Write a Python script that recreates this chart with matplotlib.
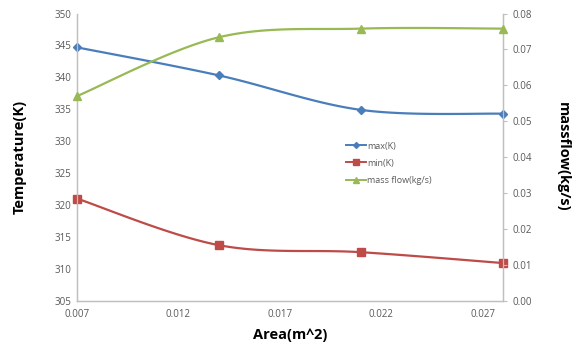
import numpy as np
import matplotlib
matplotlib.use("Agg")
import matplotlib.pyplot as plt
from matplotlib.lines import Line2D

area = [0.007, 0.014, 0.021, 0.028]
t_max = [344.7, 340.3, 334.9, 334.3]
t_min = [321.0, 313.7, 312.6, 310.9]
mass_flow = [0.0570, 0.0734, 0.0758, 0.0758]
x_ticks = [0.007, 0.012, 0.017, 0.022, 0.027]
left_ticks = [305, 310, 315, 320, 325, 330, 335, 340, 345, 350]
right_ticks = [0.00, 0.01, 0.02, 0.03, 0.04, 0.05, 0.06, 0.07, 0.08]

BLUE = "#4A7EBB"
RED = "#BE4B48"
GREEN = "#98B954"
GREY = "#595959"

plt.rcParams['font.family'] = ['Open Sans', 'DejaVu Sans']


def smooth(xs, ys, n=40):
    # Catmull-Rom style Bezier (like Excel smoothed lines) for drawing
    xs = np.asarray(xs, float)
    ys = np.asarray(ys, float)
    px = np.concatenate([[xs[0]], xs, [xs[-1]]])
    py = np.concatenate([[ys[0]], ys, [ys[-1]]])
    outx, outy = [], []
    for i in range(1, len(px) - 2):
        p0 = np.array([px[i - 1], py[i - 1]])
        p1 = np.array([px[i], py[i]])
        p2 = np.array([px[i + 1], py[i + 1]])
        p3 = np.array([px[i + 2], py[i + 2]])
        c1 = p1 + (p2 - p0) / 6.0
        c2 = p2 - (p3 - p1) / 6.0
        t = np.linspace(0, 1, n)[:, None]
        b = ((1 - t) ** 3) * p1 + 3 * ((1 - t) ** 2) * t * c1 + 3 * (1 - t) * t ** 2 * c2 + t ** 3 * p2
        outx.extend(b[:, 0])
        outy.extend(b[:, 1])
    return np.array(outx), np.array(outy)


fig = plt.figure(figsize=(5.86, 3.47), dpi=100)
ax = fig.add_axes([0.1314, 0.1334, 0.7270, 0.8276])
ax2 = ax.twinx()

# left-axis series
for ys, c, m, ms in [(t_max, BLUE, 'D', 4), (t_min, RED, 's', 6)]:
    sx, sy = smooth(area, ys)
    ax.plot(sx, sy, color=c, lw=1.6, zorder=3)
    ax.plot(area, ys, ls='none', marker=m, color=c, ms=ms, zorder=4, clip_on=False)

sx, sy = smooth(area, mass_flow)
ax2.plot(sx, sy, color=GREEN, lw=1.6, zorder=3)
ax2.plot(area, mass_flow, ls='none', marker='^', color=GREEN, ms=6, zorder=4, clip_on=False)

ax.set_xlim(0.007, 0.028)
ax.set_ylim(305, 350)
ax2.set_ylim(0, 0.08)
ax.set_xticks(x_ticks)
ax.set_xticklabels([f"{v:.3f}" for v in x_ticks])
ax.set_yticks(left_ticks)
ax.set_yticklabels([str(v) for v in left_ticks])
ax2.set_yticks(right_ticks)
ax2.set_yticklabels([f"{v:.2f}" for v in right_ticks])

for a in (ax, ax2):
    for s in ('top',):
        a.spines[s].set_visible(False)
    for s in ('left', 'right', 'bottom'):
        a.spines[s].set_color("#BFBFBF")
        a.spines[s].set_linewidth(0.9)
ax.tick_params(axis='x', length=0, labelsize=7, labelcolor=GREY, pad=6)
ax.tick_params(axis='y', length=0, labelsize=7, labelcolor=GREY, pad=4)
ax2.tick_params(axis='y', length=3, color="#BFBFBF", labelsize=7, labelcolor=GREY, pad=4)

ax.set_xlabel("Area(m^2)", fontsize=10.5, fontweight='bold', labelpad=6)
ax.set_ylabel("Temperature(K)", fontsize=10.5, fontweight='bold', labelpad=20)
ax2.set_ylabel("massflow(kg/s)", fontsize=10.5, fontweight='bold', rotation=270, labelpad=27)

handles = [
    Line2D([], [], color=BLUE, marker='D', ms=3, lw=1.4),
    Line2D([], [], color=RED, marker='s', ms=5, lw=1.4),
    Line2D([], [], color=GREEN, marker='^', ms=5, lw=1.4),
]
leg = ax2.legend(handles, ["max(K)", "min(K)", "mass flow(kg/s)"], loc='upper left',
                 bbox_to_anchor=(0.622, 0.57), frameon=False, fontsize=6.5,
                 handlelength=2.2, handletextpad=0.1, labelspacing=0.9, borderpad=0)
for t in leg.get_texts():
    t.set_color(GREY)

fig.savefig("out.png", dpi=100)
